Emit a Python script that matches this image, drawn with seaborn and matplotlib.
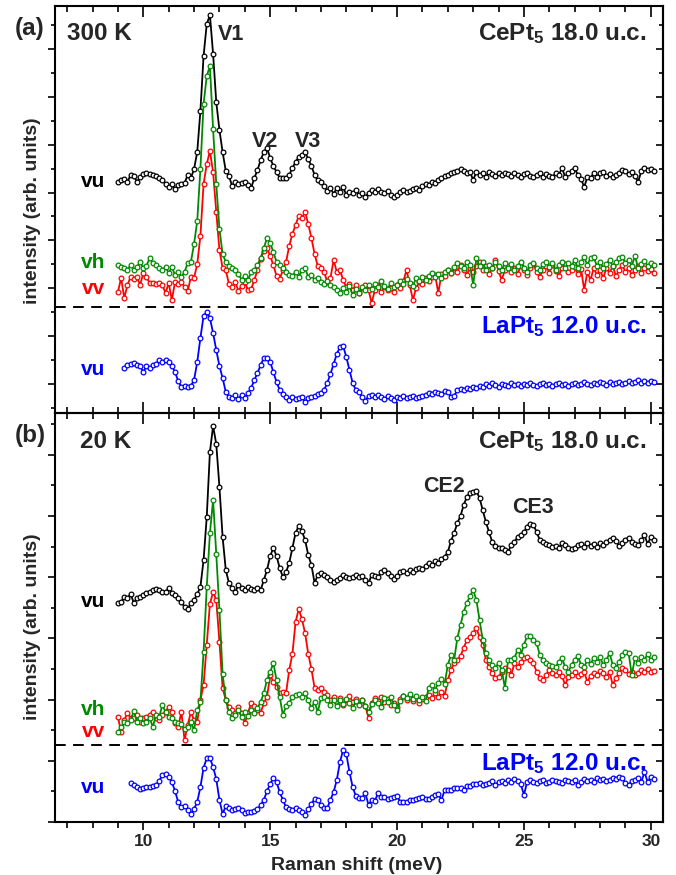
import numpy as np
import pandas as pd
import matplotlib
matplotlib.use("Agg")
import matplotlib.pyplot as plt
import seaborn as sns
from matplotlib.ticker import MultipleLocator, NullFormatter

# ---------------- data (Raman shift grid: start + 0.125 meV steps) ----------------
STEP = 0.125
A_START = 9.0       # black / green / red spectra, panel (a)
A_LA_START = 9.25   # LaPt5 spectrum, panel (a)
B_START = 9.0
B_LA_START = 9.5

# panel (a) 300 K, stacked intensities (arb. units)
a_vu = [
    202, 204, 205, 202, 209, 208, 202, 207,
    210, 211, 210, 209, 208, 206, 204, 200,
    197, 200, 195, 199, 200, 201, 209, 206,
    215, 232, 273, 328, 360, 369, 330, 282,
    254, 232, 213, 208, 198, 202, 200, 201,
    202, 199, 196, 206, 214, 224, 232, 236,
    226, 218, 212, 206, 206, 206, 209, 216,
    222, 227, 229, 232, 225, 218, 209, 204,
    202, 198, 193, 196, 190, 196, 192, 197,
    189, 192, 191, 194, 189, 191, 187, 191,
    194, 192, 195, 192, 191, 193, 189, 187,
    189, 192, 194, 192, 193, 195, 196, 194,
    198, 200, 199, 202, 201, 204, 206, 208,
    209, 211, 212, 213, 215, 213, 211, 212,
    204, 212, 209, 211, 207, 212, 210, 208,
    211, 209, 211, 210, 208, 211, 209, 207,
    210, 211, 208, 207, 209, 211, 207, 210,
    208, 207, 211, 209, 216, 207, 211, 213,
    216, 209, 205, 197, 207, 206, 211, 207,
    211, 212, 208, 210, 207, 209, 211, 214,
    213, 210, 212, 208, 202, 213, 216, 214,
    215, 213,
]
a_vh = [
    119, 117, 116, 114, 119, 114, 117, 122,
    116, 118, 126, 121, 119, 116, 114, 117,
    111, 117, 109, 112, 107, 112, 121, 122,
    140, 163, 215, 280, 308, 318, 255, 200,
    155, 130, 122, 118, 116, 114, 110, 104,
    108, 104, 112, 114, 119, 126, 136, 146,
    141, 132, 122, 119, 116, 112, 109, 108,
    112, 107, 114, 116, 107, 109, 104, 106,
    102, 100, 103, 99, 97, 94, 91, 96,
    92, 98, 89, 95, 91, 97, 94, 99,
    95, 100, 97, 103, 98, 95, 101, 97,
    99, 103, 100, 105, 101, 98, 106, 103,
    107, 104, 108, 111, 107, 110, 106, 112,
    114, 111, 117, 121, 118, 116, 122, 119,
    99, 126, 118, 122, 114, 119, 116, 122,
    118, 114, 121, 116, 120, 114, 118, 122,
    116, 112, 119, 121, 116, 114, 120, 122,
    117, 121, 114, 119, 122, 116, 121, 118,
    124, 116, 122, 127, 119, 126, 127, 118,
    122, 116, 120, 124, 118, 122, 126, 127,
    121, 124, 118, 128, 116, 120, 123, 118,
    121, 119,
]
a_vv = [
    92, 106, 86, 99, 107, 105, 107, 99,
    111, 107, 101, 101, 100, 101, 99, 91,
    101, 84, 102, 100, 102, 97, 93, 107,
    106, 120, 148, 200, 220, 233, 212, 172,
    134, 116, 114, 100, 97, 102, 93, 98,
    102, 94, 95, 104, 114, 125, 133, 136,
    128, 119, 108, 105, 114, 122, 138, 150,
    159, 168, 166, 172, 160, 146, 130, 118,
    116, 112, 102, 106, 124, 112, 114, 104,
    97, 100, 94, 99, 91, 96, 99, 94,
    81, 94, 99, 92, 97, 94, 96, 92,
    99, 96, 103, 114, 99, 84, 96, 102,
    100, 106, 103, 107, 109, 91, 110, 108,
    114, 111, 116, 112, 119, 114, 109, 116,
    112, 118, 122, 114, 118, 110, 116, 124,
    113, 104, 114, 118, 112, 116, 110, 118,
    114, 109, 116, 120, 112, 107, 114, 118,
    111, 119, 113, 108, 116, 120, 112, 114,
    117, 110, 115, 94, 112, 104, 116, 109,
    114, 106, 116, 111, 118, 108, 114, 119,
    112, 116, 109, 114, 118, 111, 116, 113,
    115, 111,
]
a_la = [
    16, 19, 20, 21, 19, 18,
    12, 18, 16, 19, 20, 24, 22, 24,
    22, 18, 12, 3, -3, -2, -3, -2,
    4, 22, 46, 68, 72, 66, 51, 34,
    18, 6, -8, -13, -14, -11, -15, -11,
    -14, -9, -4, 4, 11, 19, 26, 26,
    22, 12, 2, -6, -10, -13, -16, -13,
    -15, -14, -13, -18, -14, -13, -12, -10,
    -9, -6, 1, 10, 20, 30, 37, 38,
    27, 14, 1, -6, -8, -13, -17, -12,
    -11, -13, -11, -13, -15, -12, -14, -16,
    -13, -14, -12, -14, -13, -12, -14, -13,
    -12, -11, -9, -10, -8, -9, -10, -7,
    -8, -13, -12, -6, -5, -6, -4, -5,
    -3, -4, -2, -3, 0, -2, 1, -1,
    -3, 0, -1, -2, 1, -1, 0, -2,
    0, -1, 1, -1, -2, 0, 1, -1,
    0, -2, 0, 1, -1, 0, -2, 0,
    1, -1, 0, 2, 0, -1, 1, 0,
    2, 1, -1, 2, 0, 1, 2, 0,
    1, 3, 1, 2, 4, 1, 3, 1,
    3, 2,
]

# panel (b) 20 K
b_vu = [
    219, 220, 225, 224, 228, 219, 224, 225,
    227, 229, 230, 232, 233, 232, 230, 230,
    234, 229, 227, 224, 220, 215, 213, 219,
    222, 228, 235, 262, 305, 370, 396, 378,
    335, 285, 252, 239, 234, 230, 237, 234,
    232, 235, 233, 232, 234, 232, 242, 252,
    266, 274, 266, 254, 245, 250, 259, 274,
    289, 296, 291, 282, 267, 257, 239, 247,
    249, 247, 245, 242, 240, 242, 244, 247,
    245, 244, 245, 247, 245, 246, 242, 239,
    247, 246, 245, 250, 252, 249, 246, 243,
    246, 250, 251, 249, 252, 250, 253, 254,
    253, 256, 259, 257, 261, 259, 263, 265,
    270, 281, 289, 299, 306, 317, 325, 329,
    330, 331, 324, 312, 300, 290, 280, 276,
    274, 274, 272, 270, 277, 280, 285, 287,
    290, 295, 298, 297, 290, 282, 280, 278,
    277, 275, 276, 274, 279, 277, 274, 273,
    274, 277, 278, 275, 279, 276, 278, 275,
    279, 277, 280, 282, 284, 281, 276, 279,
    282, 284, 280, 278, 277, 282, 287, 278,
    285, 282,
]
b_vh = [
    90, 95, 100, 99, 102, 111, 100, 104,
    99, 100, 104, 95, 107, 105, 117, 110,
    105, 104, 100, 99, 98, 93, 95, 100,
    92, 112, 120, 170, 235, 289, 322, 268,
    212, 148, 122, 110, 104, 107, 112, 105,
    110, 106, 112, 109, 114, 120, 129, 142,
    150, 159, 142, 125, 107, 116, 119, 125,
    127, 128, 125, 129, 122, 114, 120, 110,
    124, 125, 122, 117, 122, 116, 122, 118,
    123, 119, 114, 121, 117, 122, 116, 110,
    118, 122, 119, 115, 124, 120, 125, 117,
    112, 121, 126, 124, 128, 123, 126, 122,
    125, 121, 134, 137, 132, 139, 143, 138,
    157, 167, 162, 184, 197, 210, 219, 226,
    232, 222, 202, 182, 169, 162, 157, 154,
    159, 152, 134, 162, 162, 164, 172, 167,
    177, 186, 186, 182, 179, 167, 162, 159,
    157, 156, 155, 160, 164, 155, 150, 157,
    162, 166, 157, 155, 162, 158, 164, 160,
    165, 157, 162, 169, 157, 154, 160, 167,
    170, 169, 147, 164, 159, 165, 162, 168,
    162, 165,
]
b_vv = [
    105, 90, 102, 109, 104, 104, 107, 100,
    104, 105, 107, 110, 104, 102, 107, 110,
    115, 110, 99, 95, 110, 82, 97, 110,
    102, 100, 122, 137, 177, 218, 230, 222,
    180, 134, 122, 115, 112, 109, 115, 109,
    99, 109, 119, 116, 112, 109, 119, 125,
    147, 140, 135, 129, 130, 129, 152, 168,
    200, 213, 203, 189, 168, 153, 134, 132,
    134, 130, 127, 122, 125, 119, 124, 117,
    122, 126, 120, 123, 118, 122, 116, 104,
    119, 124, 121, 125, 120, 123, 117, 119,
    115, 123, 126, 122, 125, 121, 124, 119,
    123, 125, 127, 124, 129, 125, 130, 126,
    142, 152, 159, 162, 166, 174, 182, 185,
    189, 194, 185, 177, 162, 155, 149, 144,
    145, 150, 154, 152, 147, 159, 155, 160,
    164, 165, 162, 159, 150, 144, 142, 147,
    152, 149, 147, 150, 146, 137, 145, 147,
    150, 146, 148, 150, 140, 146, 149, 147,
    151, 149, 145, 150, 137, 144, 149, 154,
    152, 148, 150, 147, 149, 152, 150, 153,
    150, 151,
]
b_la = [
    39, 37, 35, 33,
    34, 35, 35, 36, 37, 41, 47, 48,
    45, 40, 31, 20, 15, 16, 12, 8,
    13, 20, 35, 54, 64, 64, 55, 43,
    22, 8, 16, 14, 12, 13, 14, 12,
    9, 10, 10, 11, 13, 17, 22, 31,
    38, 44, 40, 30, 22, 15, 13, 12,
    14, 12, 10, 7, 13, 18, 23, 22,
    17, 14, 14, 22, 30, 42, 60, 72,
    68, 50, 35, 26, 24, 24, 29, 17,
    22, 21, 29, 25, 25, 23, 24, 25,
    26, 20, 20, 20, 22, 22, 23, 24,
    25, 23, 23, 25, 27, 28, 22, 32,
    32, 32, 34, 34, 34, 32, 36, 36,
    38, 38, 39, 37, 38, 39, 41, 37,
    40, 41, 39, 42, 40, 43, 41, 38,
    27, 40, 42, 40, 39, 41, 42, 39,
    40, 42, 41, 40, 39, 42, 41, 40,
    42, 37, 40, 43, 41, 42, 40, 44,
    42, 43, 41, 42, 44, 43, 45, 44,
    39, 37, 41, 42, 44, 40, 50, 40,
    45, 43,
]
SEPARATOR_LEVEL = 77   # dashed line between CePt5 and LaPt5 spectra
x_major_ticks = [10, 15, 20, 25, 30]

# ---------------- style ----------------
sns.set_style("ticks")
plt.rcParams["font.family"] = ["Liberation Sans", "DejaVu Sans"]
plt.rcParams["font.weight"] = "bold"
plt.rcParams["mathtext.fontset"] = "custom"
plt.rcParams["mathtext.rm"] = "Liberation Sans:bold"
plt.rcParams["mathtext.it"] = "Liberation Sans:bold"
plt.rcParams["mathtext.bf"] = "Liberation Sans:bold"
plt.rcParams["mathtext.default"] = "regular"

BLACK, GREEN, RED, BLUE = "#000000", "#008a00", "#ff0000", "#0000ff"

fig = plt.figure(figsize=(6.76, 8.75), dpi=100)
axA = fig.add_axes([55 / 676, 1 - 413 / 875, 608 / 676, 407 / 875])
axB = fig.add_axes([55 / 676, 1 - 822 / 875, 608 / 676, 409 / 875])


def draw(ax, vals, start, color, z):
    df = pd.DataFrame({"E": start + STEP * np.arange(len(vals)), "I": vals})
    sns.lineplot(data=df, x="E", y="I", ax=ax, color=color, linewidth=1.3,
                 marker="o", markersize=3.4, markerfacecolor="white",
                 markeredgecolor=color, markeredgewidth=0.9,
                 sort=False, estimator=None, zorder=z)


draw(axA, a_vu, A_START, BLACK, 3)
draw(axA, a_vv, A_START, RED, 4)
draw(axA, a_vh, A_START, GREEN, 5)
draw(axA, a_la, A_LA_START, BLUE, 3)

draw(axB, b_vu, B_START, BLACK, 3)
draw(axB, b_vv, B_START, RED, 4)
draw(axB, b_vh, B_START, GREEN, 5)
draw(axB, b_la, B_LA_START, BLUE, 3)

for ax, ylim, major in [(axA, (-29, 378), 47.86), (axB, (0, 409), 61.2)]:
    ax.set_xlim(6.52, 30.48)
    ax.set_ylim(*ylim)
    ax.set_xlabel("")
    ax.set_ylabel("")
    ax.axhline(SEPARATOR_LEVEL, color="black", linewidth=1.4, linestyle=(0, (5.5, 3.8)), zorder=2)
    ax.xaxis.set_major_locator(MultipleLocator(5))
    ax.xaxis.set_minor_locator(MultipleLocator(1))
    ax.yaxis.set_major_locator(MultipleLocator(major))
    ax.yaxis.set_minor_locator(MultipleLocator(major / 2))
    ax.yaxis.set_major_formatter(NullFormatter())
    for sp in ax.spines.values():
        sp.set_visible(True)
        sp.set_linewidth(1.5)
        sp.set_color("black")
    ax.tick_params(axis="y", which="both", direction="out", left=True, right=False,
                   width=1.2, color="black")
    ax.tick_params(axis="y", which="major", length=5)
    ax.tick_params(axis="y", which="minor", length=3)
    sec = ax.secondary_yaxis("right")
    sec.yaxis.set_major_locator(MultipleLocator(major))
    sec.yaxis.set_minor_locator(MultipleLocator(major / 2))
    sec.yaxis.set_major_formatter(NullFormatter())
    sec.tick_params(axis="y", which="both", direction="in", width=1.2, color="black")
    sec.tick_params(axis="y", which="major", length=5)
    sec.tick_params(axis="y", which="minor", length=3)
    sec.spines["right"].set_linewidth(1.5)

# x ticks: panel (a) inward on both edges; panel (b) outward at bottom, inward at top
axA.tick_params(axis="x", which="both", direction="in", top=True, bottom=True,
                labelbottom=False, width=1.2, color="black")
axA.tick_params(axis="x", which="major", length=8)
axA.tick_params(axis="x", which="minor", length=4.5)

axB.tick_params(axis="x", which="both", direction="out", top=False, bottom=True,
                width=1.2, color="black", labelsize=12.5, pad=3)
axB.tick_params(axis="x", which="major", length=6)
axB.tick_params(axis="x", which="minor", length=4)
axB.set_xticks(x_major_ticks)
for lab in axB.get_xticklabels():
    lab.set_fontweight("bold")
secx = axB.secondary_xaxis("top")
secx.xaxis.set_major_locator(MultipleLocator(5))
secx.xaxis.set_minor_locator(MultipleLocator(1))
secx.xaxis.set_major_formatter(NullFormatter())
secx.tick_params(axis="x", which="both", direction="in", width=1.2, color="black")
secx.tick_params(axis="x", which="major", length=8)
secx.tick_params(axis="x", which="minor", length=4.5)

# ---------------- text ----------------
big, mid = 17.5, 15.5
axA.text(4.94, 349, "(a)", fontsize=17.5, fontweight="bold", va="baseline")
axA.text(6.99, 344, "300 K", fontsize=big, fontweight="bold", va="baseline")
axA.text(12.94, 344, "V1", fontsize=mid, fontweight="bold", va="baseline")
axA.text(14.29, 237, "V2", fontsize=mid, fontweight="bold", va="baseline")
axA.text(15.98, 237, "V3", fontsize=mid, fontweight="bold", va="baseline")
axA.text(29.82, 344, "CePt$_5$ 18.0 u.c.", fontsize=big, ha="right", va="baseline")
axA.text(29.82, 51, "LaPt$_5$ 12.0 u.c.", fontsize=big, ha="right", va="baseline", color=BLUE)
axA.text(8.49, 197, "vu", fontsize=15, fontweight="bold", ha="right", va="baseline", color=BLACK)
axA.text(8.49, 116, "vh", fontsize=15, fontweight="bold", ha="right", va="baseline", color=GREEN)
axA.text(8.49, 90, "vv", fontsize=15, fontweight="bold", ha="right", va="baseline", color=RED)
axA.text(8.49, 9, "vu", fontsize=15, fontweight="bold", ha="right", va="baseline", color=BLUE)

axB.text(4.94, 380, "(b)", fontsize=17.5, fontweight="bold", va="baseline")
axB.text(7.51, 374, "20 K", fontsize=big, fontweight="bold", va="baseline")
axB.text(29.82, 374, "CePt$_5$ 18.0 u.c.", fontsize=big, ha="right", va="baseline")
axB.text(21.03, 330, "CE2", fontsize=mid, fontweight="bold", va="baseline")
axB.text(24.53, 309, "CE3", fontsize=mid, fontweight="bold", va="baseline")
axB.text(29.82, 52, "LaPt$_5$ 12.0 u.c.", fontsize=big, ha="right", va="baseline", color=BLUE)
axB.text(8.49, 215, "vu", fontsize=15, fontweight="bold", ha="right", va="baseline", color=BLACK)
axB.text(8.49, 107, "vh", fontsize=15, fontweight="bold", ha="right", va="baseline", color=GREEN)
axB.text(8.49, 85, "vv", fontsize=15, fontweight="bold", ha="right", va="baseline", color=RED)
axB.text(8.49, 29, "vu", fontsize=15, fontweight="bold", ha="right", va="baseline", color=BLUE)

fig.text(33 / 676, 1 - 211 / 875, "intensity (arb. units)", rotation=90, fontsize=14,
         fontweight="bold", ha="center", va="center")
fig.text(33 / 676, 1 - 627 / 875, "intensity (arb. units)", rotation=90, fontsize=14,
         fontweight="bold", ha="center", va="center")
fig.text(357 / 676, 1 - 866 / 875, "Raman shift (meV)", fontsize=14, fontweight="bold",
         ha="center", va="center")

fig.savefig("out.png", dpi=100)
